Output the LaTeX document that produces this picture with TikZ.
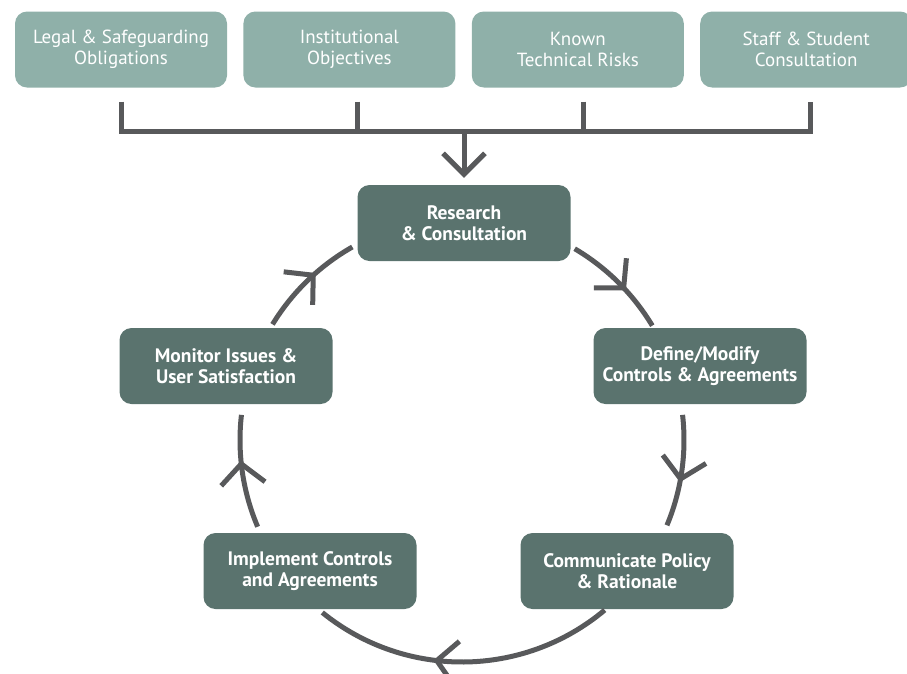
\documentclass[tikz,border=0pt]{standalone}
\usepackage{fontspec}
\setmainfont{PT Sans}
\usetikzlibrary{arrows.meta,positioning,decorations.markings}
\definecolor{lightbox}{HTML}{8FB0A9}
\definecolor{darkbox}{HTML}{5A736E}
\definecolor{linegray}{HTML}{58595B}
\tikzset{
  source/.style ={rounded corners=12pt,fill=lightbox,text=white,align=center,
                  minimum width=212pt,minimum height=76pt,inner sep=0pt,
                  font=\fontsize{19}{21}\selectfont},
  stage/.style  ={rounded corners=12pt,fill=darkbox,text=white,align=center,
                  minimum width=213pt,minimum height=76pt,inner sep=0pt,
                  font=\fontsize{19.5}{21}\selectfont\bfseries},
  bracket/.style={line width=5pt,draw=linegray},
  feed/.style   ={line width=5pt,draw=linegray,-{Straight Barb[length=21pt,width=42pt]}},
  cyc/.style    ={line width=5pt,draw=linegray,decoration={markings,
                  mark=at position 0.6 with {\arrow{Straight Barb[length=20pt,width=44pt]}}},
                  postaction={decorate}}
}

\begin{document}
\begin{tikzpicture}[x=1pt,y=-1pt,node distance=16pt]
  \useasboundingbox (0,0) rectangle (907,673);
  % inputs along the top
  \node[source] (legal) at (121,49.5) {Legal \& Safeguarding\\Obligations};
  \node[source,right=of legal] (inst) {Institutional\\Objectives};
  \node[source,right=of inst] (known) {Known\\Technical Risks};
  \node[source,right=of known] (staff) {Staff \& Student\\Consultation};
  % the review cycle
  \coordinate (ctr) at (462,440);
  \node[stage] (research) at (464,223) {Research\\\& Consultation};
  \node[stage] (define) at (700,366) {Define/Modify\\Controls \& Agreements};
  \node[stage] (comm) at (627,571) {Communicate Policy\\\& Rationale};
  \node[stage] (impl) at (310,571) {Implement Controls\\and Agreements};
  \node[stage] (monitor) at (226,366) {Monitor Issues \&\\User Satisfaction};
  % bracket collecting the inputs
  \coordinate (bar) at (464,131);
  \draw[bracket] ([yshift=-14pt]legal.south) |- (bar)
                 -| ([xshift=4pt,yshift=-14pt]staff.south);
  \draw[bracket] ([xshift=8pt,yshift=-14pt]inst.south) -- ([xshift=8pt]inst.south |- bar);
  \draw[bracket] ([xshift=6pt,yshift=-14pt]known.south) -- ([xshift=6pt]known.south |- bar);
  \draw[feed] (bar) -- ([yshift=7pt]research.north);
  % arcs between the stages
  \draw[cyc] (ctr) ++(59.5:222pt) arc[start angle=59.5,end angle=31,radius=222pt];
  \draw[cyc] (ctr) ++(6.5:222pt) arc[start angle=6.5,end angle=-22.6,radius=222pt];
  \draw[cyc] (ctr) ++(-50:222pt) arc[start angle=-50,end angle=-129,radius=222pt];
  \draw[cyc] (ctr) ++(-157:222pt) arc[start angle=-157,end angle=-186.5,radius=222pt];
  \draw[cyc] (ctr) ++(148.6:222pt) arc[start angle=148.6,end angle=119.6,radius=222pt];
\end{tikzpicture}
\end{document}
